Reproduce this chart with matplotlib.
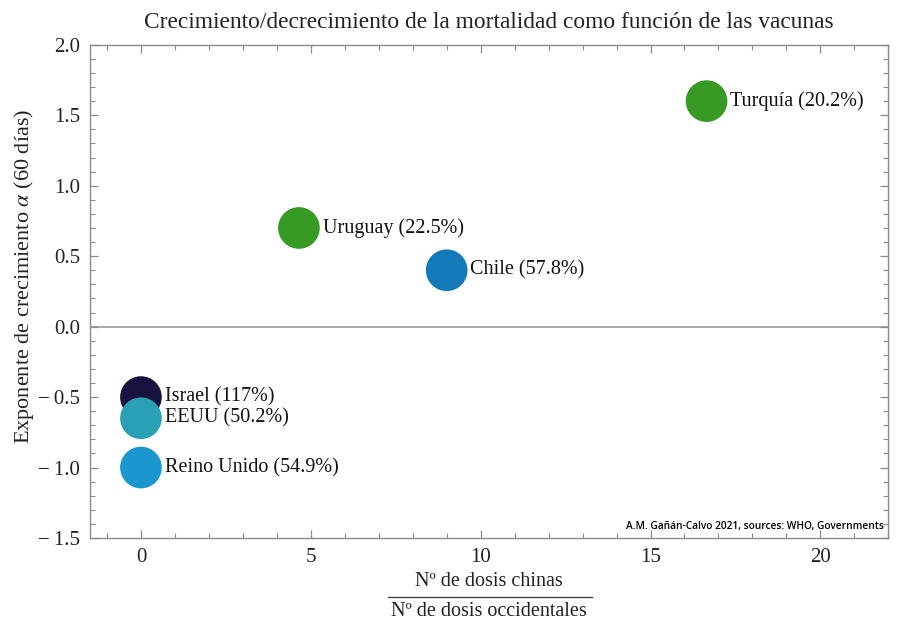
import numpy as np
import matplotlib
matplotlib.use('Agg')
from matplotlib import pyplot as plt
from matplotlib.ticker import MultipleLocator
from matplotlib.lines import Line2D

paises = ['Israel', 'EEUU', 'Reino Unido', 'Uruguay', 'Chile', 'Turquía']
porcentaje = ['117%', '50.2%', '54.9%', '22.5%', '57.8%', '20.2%']
ratio_dosis = [0.0, 0.0, 0.0, 4.65, 9.0, 16.65]
alpha_exp = [-0.5, -0.65, -1.0, 0.7, 0.4, 1.6]
colores = ['#17123f', '#2aa0b5', '#1a97cf', '#379a25', '#1379b8', '#379a25']

plt.rcParams['font.family'] = ['Liberation Serif', 'DejaVu Serif']
plt.rcParams['mathtext.fontset'] = 'stix'

fig = plt.figure(figsize=(9, 6.34), dpi=100)
ax = fig.add_axes([0.1, 0.1514, 0.887, 0.778])

ax.axhline(0, color='#9a9a9a', lw=1.2, zorder=1)
for x, y, c, p, pc in zip(ratio_dosis, alpha_exp, colores, paises, porcentaje):
    ax.scatter(x, y, s=900, color=c, edgecolors='none', zorder=3)
    ax.annotate(f'{p} ({pc})', (x, y), xytext=(17, 0), textcoords='offset points',
                va='center', ha='left', fontsize=14.5, color='#111111', zorder=4)

ax.set_xlim(-1.5, 22)
ax.set_ylim(-1.5, 2.0)
ax.xaxis.set_major_locator(MultipleLocator(5))
ax.xaxis.set_minor_locator(MultipleLocator(1))
ax.yaxis.set_major_locator(MultipleLocator(0.5))
ax.yaxis.set_minor_locator(MultipleLocator(0.1))
ax.set_yticks(np.arange(-1.5, 2.01, 0.5))
ax.set_yticklabels([f'{v:.1f}'.replace('-', '\u2212\u2009') for v in np.arange(-1.5, 2.01, 0.5)])
ax.tick_params(which='both', direction='in', top=True, right=True, color='#8a8a8a',
               labelsize=15, labelcolor='#222222', pad=7)
ax.tick_params(which='major', length=6, width=0.9)
ax.tick_params(which='minor', length=3.5, width=0.8)
for s in ax.spines.values():
    s.set_color('#8a8a8a')
    s.set_linewidth(1.0)

ax.set_ylabel(r'Exponente de crecimiento $\alpha$ (60 días)', fontsize=16, color='#222222')
ax.yaxis.set_label_coords(-0.068, 0.53)
ax.set_title('Crecimiento/decrecimiento de la mortalidad como función de las vacunas',
             fontsize=16.8, color='#222222', pad=12)

ax.text(0.995, 0.012, 'A.M. Gañán-Calvo 2021, sources: WHO, Governments',
        transform=ax.transAxes, ha='right', va='bottom', fontsize=7.3,
        family='Open Sans', fontweight='semibold', color='black')

# etiqueta del eje x en forma de fraccion
fig.text(0.543, 1 - 582/634, 'Nº de dosis chinas', ha='center', va='center', fontsize=14.5, color='#222222')
fig.text(0.543, 1 - 611/634, 'Nº de dosis occidentales', ha='center', va='center', fontsize=14.5, color='#222222')
fig.add_artist(Line2D([388/900, 592/900], [1 - 597/634, 1 - 597/634], transform=fig.transFigure,
                      color='#444444', lw=1.0))

fig.savefig('out.png', dpi=100)
